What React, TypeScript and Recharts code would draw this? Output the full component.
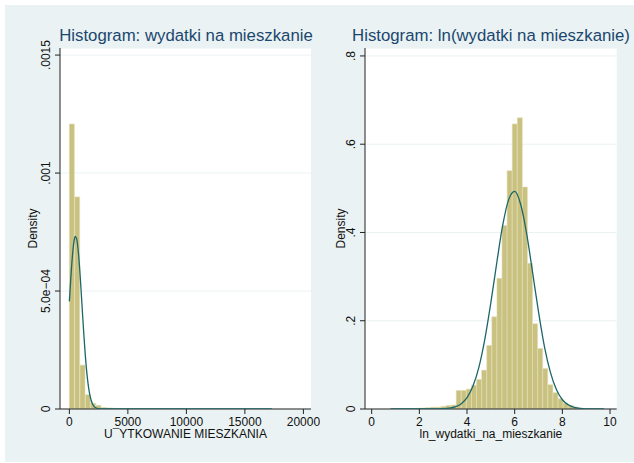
import { BarChart, Bar, LineChart, Line, XAxis, YAxis, CartesianGrid, Label } from 'recharts';

const FONT = '"Liberation Sans", Arial, Helvetica, sans-serif';
const BG = '#EAF2F3';
const BAR_FILL = '#C9C17F';
const BAR_EDGE = '#E2DEB6';
const CURVE = '#1D6668';
const TITLE = '#1A476F';
const INK = '#111';

// left panel: raw expenditure
const rawBinStart = 0;
const rawBinWidth = 455;
const rawDensity = [
  0.001208, 0.000899, 0.000186, 0.0000607, 0.0000242, 0.0000157, 0.0000064, 0.0000045,
  0.000003, 0.0000022, 0.0000015, 0.0000012, 0.000001, 0.0000008, 0.0000006, 0.0000005,
  0.0000004, 0.0000004, 0.0000003, 0.0000002, 0.0000002, 0.0000002, 0.0000002, 0.0000001,
  0.0000002, 0.0000001, 0.0000001, 0.0000002, 0.0000001, 0.0000001, 0.0000001, 0.0000001,
  0.0000001, 0.0000001, 0.0000001, 0.0000001, 0.0000001, 0.0000001,
];
const rawCurveX = [0, 125, 250, 375, 500, 625, 750, 875, 1000, 1125, 1250, 1375, 1500, 1625, 1750, 1875, 2000, 2250, 2500, 2750, 3000, 5000, 10000, 17300];
const rawCurveY = [
  0.000456, 0.000555, 0.000641, 0.000703, 0.000731, 0.000721, 0.000675, 0.000599, 0.000505,
  0.000403, 0.000306, 0.00022, 0.00015, 0.0000973, 0.00006, 0.0000348, 0.000019, 0.000005,
  0.0000011, 0.0000002, 0, 0, 0, 0,
];
const rawXTicks = [0, 5000, 10000, 15000, 20000];
const rawYTicks = [0, 0.0005, 0.001, 0.0015];
const rawYLabels = ['0', '5.0e\u221204', '.001', '.0015'];

// right panel: log expenditure
const lnBinStart = 0.77;
const lnBinWidth = 0.2136;
const lnDensity = [
  0.0005, 0.001, 0.0005, 0.001, 0.001, 0.0015, 0.002, 0.003, 0.004, 0.004, 0.006, 0.008, 0.009,
  0.042, 0.042, 0.045, 0.054, 0.067, 0.088, 0.144, 0.209, 0.296, 0.416, 0.54, 0.646, 0.66,
  0.503, 0.33, 0.193, 0.137, 0.092, 0.055, 0.037, 0.023, 0.013, 0.008, 0.0045, 0.002, 0.001,
  0.0007, 0.0005, 0.0003,
];
const lnCurveX = [0.8, 1.5, 2, 2.5, 3, 3.25, 3.5, 3.75, 4, 4.25, 4.5, 4.75, 5, 5.25, 5.5, 5.75, 6, 6.25, 6.5, 6.75, 7, 7.25, 7.5, 7.75, 8, 8.25, 8.5, 8.75, 9, 9.25, 9.5, 9.75];
const lnCurveY = [
  0, 0, 0.000003, 0.00005, 0.0006, 0.0018, 0.0047, 0.0115, 0.0256, 0.052, 0.095, 0.159, 0.241,
  0.332, 0.417, 0.475, 0.493, 0.464, 0.398, 0.31, 0.22, 0.141, 0.083, 0.044, 0.021, 0.0094,
  0.0038, 0.0014, 0.00045, 0.00014, 0.00004, 0.00001,
];
const lnXTicks = [0, 2, 4, 6, 8, 10];
const lnYTicks = [0, 0.2, 0.4, 0.6, 0.8];
const lnYLabels = ['0', '.2', '.4', '.6', '.8'];

const bins = (start: number, width: number, dens: number[]) =>
  dens.map((d, i) => ({ x: start + width * (i + 0.5), d }));
const curve = (xs: number[], ys: number[]) => xs.map((x, i) => ({ x, y: ys[i] }));

const RotatedTick = (props: any) => {
  const { x, y, payload, ticks, labels } = props;
  const label = labels[ticks.indexOf(payload.value)] ?? String(payload.value);
  return (
    <text x={x} y={y} transform={`rotate(-90 ${x} ${y})`} textAnchor="middle" dominantBaseline="central"
      fontSize={12} fill={INK} fontFamily={FONT}>{label}</text>
  );
};

type PanelProps = {
  left: number; width: number; axisW: number; right: number; densityX: number;
  xDomain: number[]; yMax: number; xTicks: number[]; yTicks: number[]; yLabels: string[];
  bars: { x: number; d: number }[]; line: { x: number; y: number }[]; xTitle: string;
};

const H = 463;
const TOP = 48;
const BOTTOM = 24;
const XAXIS_H = 30;

function Panel(p: PanelProps) {
  return (
    <>
      <div style={{ position: 'absolute', left: p.left, top: 0 }}>
        <BarChart width={p.width} height={H} data={p.bars} barCategoryGap={0} barGap={0}
          margin={{ top: TOP, right: p.right, bottom: BOTTOM, left: 0 }}>
          <CartesianGrid vertical={false} stroke={BG} fill="#fff" />
          <XAxis type="number" dataKey="x" domain={p.xDomain} allowDataOverflow ticks={p.xTicks}
            interval={0} tickSize={5} tickMargin={3} height={XAXIS_H} stroke="#222"
            tick={{ fill: INK, fontSize: 12, fontFamily: FONT }}>
            <Label content={({ viewBox }: any) => (
              <text x={viewBox.x + viewBox.width / 2} y={viewBox.y + 29} textAnchor="middle"
                fontSize={12} fill={INK} fontFamily={FONT}>{p.xTitle}</text>
            )} />
          </XAxis>
          <YAxis type="number" domain={[0, p.yMax]} allowDataOverflow ticks={p.yTicks} interval={0}
            width={p.axisW} tickSize={5} tickMargin={9} stroke="#222"
            tick={(t: any) => <RotatedTick {...t} ticks={p.yTicks} labels={p.yLabels} />}>
            <Label content={({ viewBox }: any) => {
              const cx = viewBox.x + p.densityX;
              const cy = viewBox.y + viewBox.height / 2;
              return (
                <text x={cx} y={cy} transform={`rotate(-90 ${cx} ${cy})`} textAnchor="middle"
                  dominantBaseline="central" fontSize={12} fill={INK} fontFamily={FONT}>Density</text>
              );
            }} />
          </YAxis>
          <Bar dataKey="d" fill={BAR_FILL} stroke={BAR_EDGE} strokeWidth={0.6} isAnimationActive={false} />
        </BarChart>
      </div>
      <div style={{ position: 'absolute', left: p.left, top: 0, pointerEvents: 'none' }}>
        <LineChart width={p.width} height={H} data={p.line}
          margin={{ top: TOP, right: p.right, bottom: BOTTOM + XAXIS_H, left: p.axisW }}>
          <XAxis type="number" dataKey="x" domain={p.xDomain} allowDataOverflow hide />
          <YAxis type="number" domain={[0, p.yMax]} allowDataOverflow hide />
          <Line type="monotone" dataKey="y" stroke={CURVE} strokeWidth={1.3} dot={false} isAnimationActive={false} />
        </LineChart>
      </div>
    </>
  );
}

export default function App() {
  return (
    <div style={{ position: 'absolute', left: 0, top: 0, width: 634, height: H, background: '#fff', fontFamily: FONT }}>
      <svg width={634} height={H} style={{ position: 'absolute', left: 0, top: 0 }}>
        <rect x={5} y={5} width={629} height={457} fill={BG} />
        <text x={186} y={40.5} textAnchor="middle" fontSize={16.8} fill={TITLE} fontFamily={FONT}>
          Histogram: wydatki na mieszkanie
        </text>
        <text x={491} y={40.5} textAnchor="middle" fontSize={16.8} fill={TITLE} fontFamily={FONT}>
          Histogram: ln(wydatki na mieszkanie)
        </text>
      </svg>
      <Panel left={0} width={320} axisW={60} right={9} densityX={33}
        xDomain={[-800, 20650]} yMax={0.00153} xTicks={rawXTicks} yTicks={rawYTicks} yLabels={rawYLabels}
        bars={bins(rawBinStart, rawBinWidth, rawDensity)} line={curve(rawCurveX, rawCurveY)}
        xTitle={'U\u00AFYTKOWANIE MIESZKANIA'} />
      <Panel left={320} width={314} axisW={45} right={17.3} densityX={20.7}
        xDomain={[-0.28, 10.28]} yMax={0.818} xTicks={lnXTicks} yTicks={lnYTicks} yLabels={lnYLabels}
        bars={bins(lnBinStart, lnBinWidth, lnDensity)} line={curve(lnCurveX, lnCurveY)}
        xTitle="ln_wydatki_na_mieszkanie" />
    </div>
  );
}
